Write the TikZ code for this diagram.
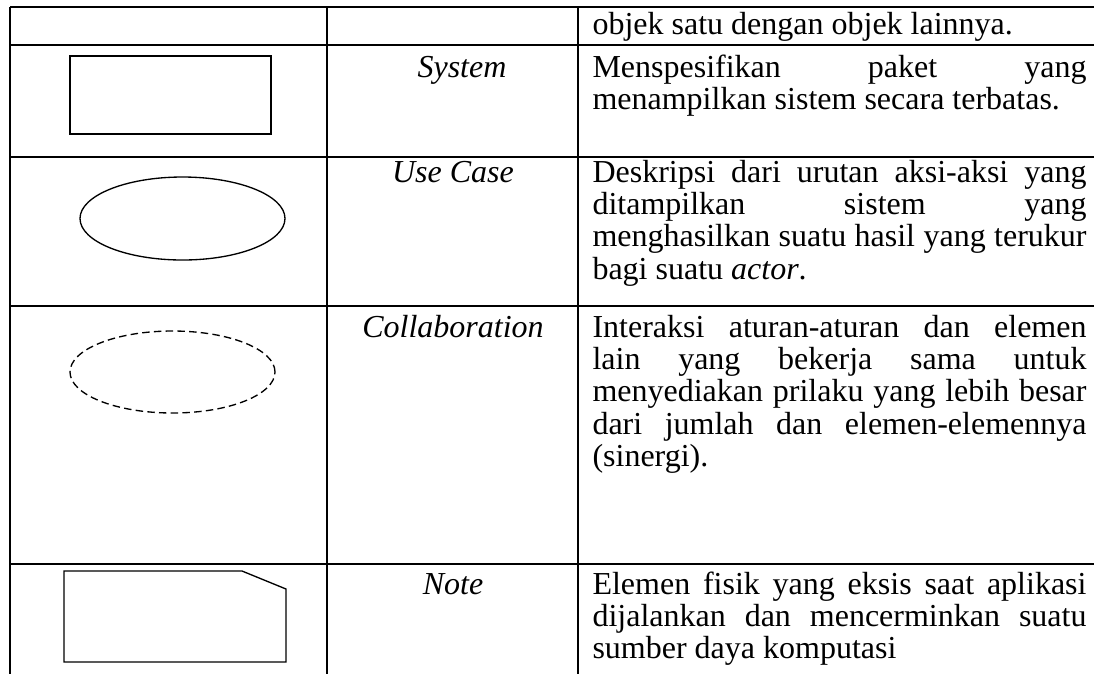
\documentclass[tikz,border=0pt]{standalone}
\usepackage{fontspec}
\setmainfont{Liberation Serif}
\usetikzlibrary{shapes.geometric}
\tolerance=10000
\hyphenpenalty=10000
\exhyphenpenalty=10000
\newcommand\cellfont{\fontsize{12pt}{12.15pt}\selectfont}
\tikzset{x=0.375pt, y=-0.375pt,
grid line/.style={ 
line width=0.75pt},
shape line/.style={ 
draw,
line width=0.5pt,
inner sep=0pt},
symname/.style={ 
anchor=base,
inner sep=0pt,
font=\cellfont\itshape},
desc/.style={ 
anchor=base west,
inner sep=0pt,
text width=185.25pt,
align=justify,
font=\cellfont}}

\begin{document}
\begin{tikzpicture}
\useasboundingbox (0,0) rectangle (1094,674);
% table rules
\draw[grid line] (10,7) -- (1094,7);
\draw[grid line] (10,45) -- (1094,45);
\draw[grid line] (10,157) -- (1094,157);
\draw[grid line] (10,306) -- (1094,306);
\draw[grid line] (10,564) -- (1094,564);
\draw[grid line] (10,7) -- (10,674);
\draw[grid line] (327,7) -- (327,674);
\draw[grid line] (578,7) -- (578,674);
% symbols
\node[shape line, rectangle, minimum width=75.375pt, minimum height=29.25pt] (sysbox) at (170.5,95) {};
\node[shape line, ellipse, minimum width=76.875pt, minimum height=31.125pt] (ucase) at (182.5,218.5) {};
\node[shape line, ellipse, dash pattern=on 2.8pt off 1.6pt, minimum width=76.875pt, minimum height=30.75pt] (collab) at (172.5,372) {};
\draw[line width=0.5pt] (64,571) -- (242,571) -- (286,589) -- (286,662) -- (64,662) -- cycle;
% names
\node[symname] (system) at (462,77) {System};
\node[symname] (usecase) at (453,182) {Use Case};
\node[symname] (collaboration) at (453,337) {Collaboration};
\node[symname] (note) at (453,594) {Note};
% descriptions
\node[desc] (d0) at (592,34) {objek satu dengan objek lainnya.};
\node[desc] (d1) at (592,77) {Menspesifikan paket yang\linebreak menampilkan sistem secara terbatas.};
\node[desc] (d2) at (592,182) {Deskripsi dari urutan aksi-aksi yang\linebreak ditampilkan sistem yang\linebreak menghasilkan suatu hasil yang terukur\linebreak bagi suatu \textit{actor}.};
\node[desc] (d3) at (592,337) {Interaksi aturan-aturan dan elemen\linebreak lain yang bekerja sama untuk\linebreak menyediakan prilaku yang lebih besar\linebreak dari jumlah dan elemen-elemennya\linebreak (sinergi).};
\node[desc] (d4) at (592,594) {Elemen fisik yang eksis saat aplikasi\linebreak dijalankan dan mencerminkan suatu\linebreak sumber daya komputasi};
\end{tikzpicture}
\end{document}
